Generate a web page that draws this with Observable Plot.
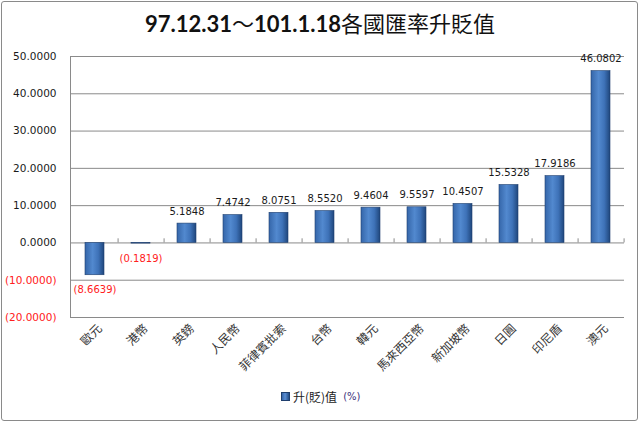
<!DOCTYPE html>
<html>
<head>
<meta charset="utf-8">
<script src="https://cdn.jsdelivr.net/npm/d3@7"></script>
<script src="https://cdn.jsdelivr.net/npm/@observablehq/plot@0.6"></script>
<style>
  html, body { margin: 0; padding: 0; background: #fff; }
  #wrap { position: relative; width: 640px; height: 423px; overflow: hidden; }
  #frame { position: absolute; left: 1px; top: 1px; width: 637px; height: 420px; box-sizing: border-box; border: 1px solid #8a8a8a; border-radius: 3px; }
  #title { position: absolute; left: 0; top: 9px; width: 640px; text-align: center; font-size: 22px; line-height: 26px; color: #111; white-space: nowrap; }
  #title .a { font-family: Lato, "Liberation Sans", sans-serif; font-weight: bold; }
  #title .b { font-family: "Noto Sans CJK TC", sans-serif; font-weight: normal; }
  #chart { position: absolute; left: 0; top: 40px; }
  #legend { position: absolute; left: 281px; top: 388px; font-family: "Noto Sans CJK TC", sans-serif; font-size: 12px; color: #222; white-space: nowrap; display: flex; align-items: center; }
  #legend .sw { width: 7px; height: 7px; background: linear-gradient(90deg, #3565a8, #5b8fd4 45%, #234d86); border: 1px solid #1f3f6e; margin-right: 3px; }
  #legend .u { font-family: "DejaVu Sans", sans-serif; font-size: 10px; color: #3b2f7a; margin-left: 6px; }
</style>
</head>
<body>
<div id="wrap">
  <div id="frame"></div>
  <div id="title"><span class="a">97.12.31</span><span class="b">～</span><span class="a">101.1.18</span><span class="b">各國匯率升貶值</span></div>
  <div id="chart"></div>
  <div id="legend"><span class="sw"></span><span>升(貶)值</span><span class="u">(%)</span></div>
</div>
<script>
const categories = ["歐元", "港幣", "英鎊", "人民幣", "菲律賓批索", "台幣", "韓元", "馬來西亞幣", "新加坡幣", "日圓", "印尼盾", "澳元"];
const values = [-8.6639, -0.1819, 5.1848, 7.4742, 8.0751, 8.5520, 9.4604, 9.5597, 10.4507, 15.5328, 17.9186, 46.0802];
const yTicks = [-20, -10, 0, 10, 20, 30, 40, 50];

const data = categories.map((c, i) => ({cat: c, v: values[i]}));
const fmt = v => v < 0 ? `(${Math.abs(v).toFixed(4)})` : v.toFixed(4);

const W = 640, H = 345, mL = 70, mR = 16, mT = 16, mB = 68;
const step = (W - mL - mR) / categories.length;

const plot = Plot.plot({
  width: W, height: H,
  marginLeft: mL, marginRight: mR, marginTop: mT, marginBottom: mB,
  style: {background: "transparent", overflow: "visible"},
  x: {type: "band", domain: categories, paddingInner: 0.59, paddingOuter: 0.295, align: 0.5, label: null},
  y: {domain: [-20, 50], label: null, axis: null},
  marks: [
    Plot.ruleY(yTicks, {stroke: "#8a8a8a", strokeWidth: 1}),
    Plot.frame({anchor: "left", stroke: "#8a8a8a"}),
    Plot.ruleX(categories, {x: d => d, y1: 0, y2: 1.1, dx: step / 2, stroke: "#8a8a8a"}),
    Plot.barY(data, {x: "cat", y: "v", fill: "url(#barGrad)", stroke: "#1f3f6e", strokeWidth: 0.6}),
    Plot.text(yTicks, {frameAnchor: "left", y: d => d, text: d => fmt(d), dx: -14, textAnchor: "end",
      fill: d => d < 0 ? "#ff2020" : "#1a1a1a", fontFamily: "DejaVu Sans", fontSize: 10.5}),
    Plot.text(data.filter(d => d.v >= 0), {x: "cat", y: "v", text: d => fmt(d.v), dy: -12,
      fill: "#1a1a1a", fontFamily: "DejaVu Sans", fontSize: 10}),
    Plot.text(data.filter(d => d.v < 0), {x: "cat", y: "v", text: d => fmt(d.v), dy: 15,
      fill: "#ff2020", fontFamily: "DejaVu Sans", fontSize: 10}),
    Plot.axisX({tickSize: 0, tickPadding: 9, tickRotate: -45, dx: 5, fontSize: 12,
      fontFamily: "Noto Sans CJK TC", fill: "#333", label: null})
  ]
});

const svg = d3.select(plot);
const defs = svg.insert("defs", ":first-child");
const g = defs.append("linearGradient").attr("id", "barGrad").attr("x1", 0).attr("x2", 1).attr("y1", 0).attr("y2", 0);
[["0%", "#3566a9"], ["40%", "#5289cf"], ["70%", "#3e72b8"], ["100%", "#1f467c"]].forEach(([o, c]) =>
  g.append("stop").attr("offset", o).attr("stop-color", c));

document.getElementById("chart").appendChild(plot);
</script>
</body>
</html>
